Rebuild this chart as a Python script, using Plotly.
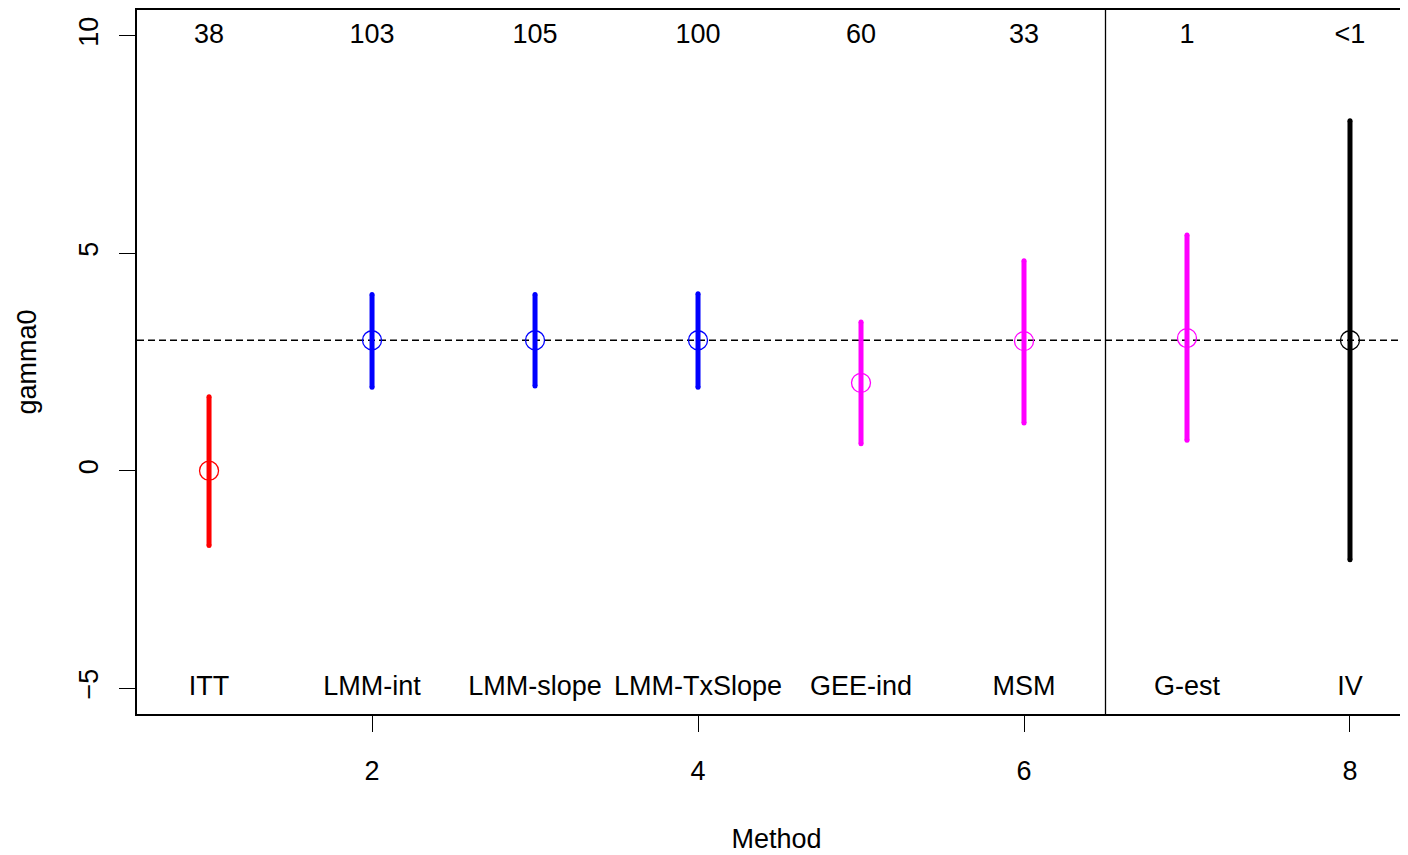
import plotly.graph_objects as go

methods = ["ITT", "LMM-int", "LMM-slope", "LMM-TxSlope", "GEE-ind", "MSM", "G-est", "IV"]
xpos = [1, 2, 3, 4, 5, 6, 7, 8]
estimate = [0.0, 3.0, 3.0, 3.0, 2.02, 2.98, 3.05, 3.0]
lower = [-1.72, 1.92, 1.95, 1.92, 0.62, 1.10, 0.70, -2.05]
upper = [1.70, 4.05, 4.05, 4.07, 3.42, 4.83, 5.42, 8.05]
counts = ["38", "103", "105", "100", "60", "33", "1", "<1"]
colors = ["#FF0000", "#0000FF", "#0000FF", "#0000FF", "#FF00FF", "#FF00FF", "#FF00FF", "#000000"]
true_value = 3.0
divider_x = 6.5
count_y = 10
label_y = -5

FONT = "Liberation Sans, Arial, Helvetica, sans-serif"
FS = 27

fig = go.Figure()

for i in range(len(xpos)):
    fig.add_trace(go.Scatter(
        x=[xpos[i], xpos[i]], y=[lower[i], upper[i]],
        mode="lines+markers",
        line=dict(color=colors[i], width=5),
        marker=dict(color=colors[i], size=5, symbol="circle"),
        showlegend=False, hoverinfo="skip"))

fig.add_trace(go.Scatter(
    x=xpos, y=estimate, mode="markers",
    marker=dict(symbol="circle-open", size=19, color=colors, line=dict(width=1.3, color=colors)),
    showlegend=False))

fig.add_hline(y=true_value, line=dict(color="black", width=1.6, dash="7px,4px"), layer="below")
fig.add_vline(x=divider_x, line=dict(color="black", width=1.3))

fig.add_trace(go.Scatter(
    x=xpos, y=[count_y] * len(xpos), mode="text", text=counts,
    textposition="middle center", textfont=dict(family=FONT, size=FS, color="black"),
    showlegend=False, hoverinfo="skip"))
fig.add_trace(go.Scatter(
    x=xpos, y=[label_y] * len(xpos), mode="text", text=methods,
    textposition="middle center", textfont=dict(family=FONT, size=FS, color="black"),
    showlegend=False, hoverinfo="skip"))

fig.update_layout(
    width=1408, height=847,
    margin=dict(l=129, r=0, t=0, b=141),
    paper_bgcolor="white", plot_bgcolor="white",
    font=dict(family=FONT, size=FS, color="black"),
    xaxis=dict(range=[0.558, 8.405], tickvals=[2, 4, 6, 8], ticks="outside", ticklen=16,
               tickwidth=1.3, tickcolor="black", showgrid=False, zeroline=False,
               showline=True, linecolor="black", linewidth=1.5, mirror=True,
               ticklabelstandoff=16,
               title=dict(text="Method", standoff=44, font=dict(size=FS))),
    yaxis=dict(range=[-5.595, 10.595], tickvals=[-5, 0, 5, 10], ticks="outside", ticklen=16,
               tickwidth=1.3, tickcolor="black", showgrid=False, zeroline=False,
               showline=True, linecolor="black", linewidth=1.5, mirror=False,
               tickangle=-90, ticklabelstandoff=10,
               title=dict(text="gamma0", standoff=30, font=dict(size=FS))),
)

fig.write_html("out.html")
